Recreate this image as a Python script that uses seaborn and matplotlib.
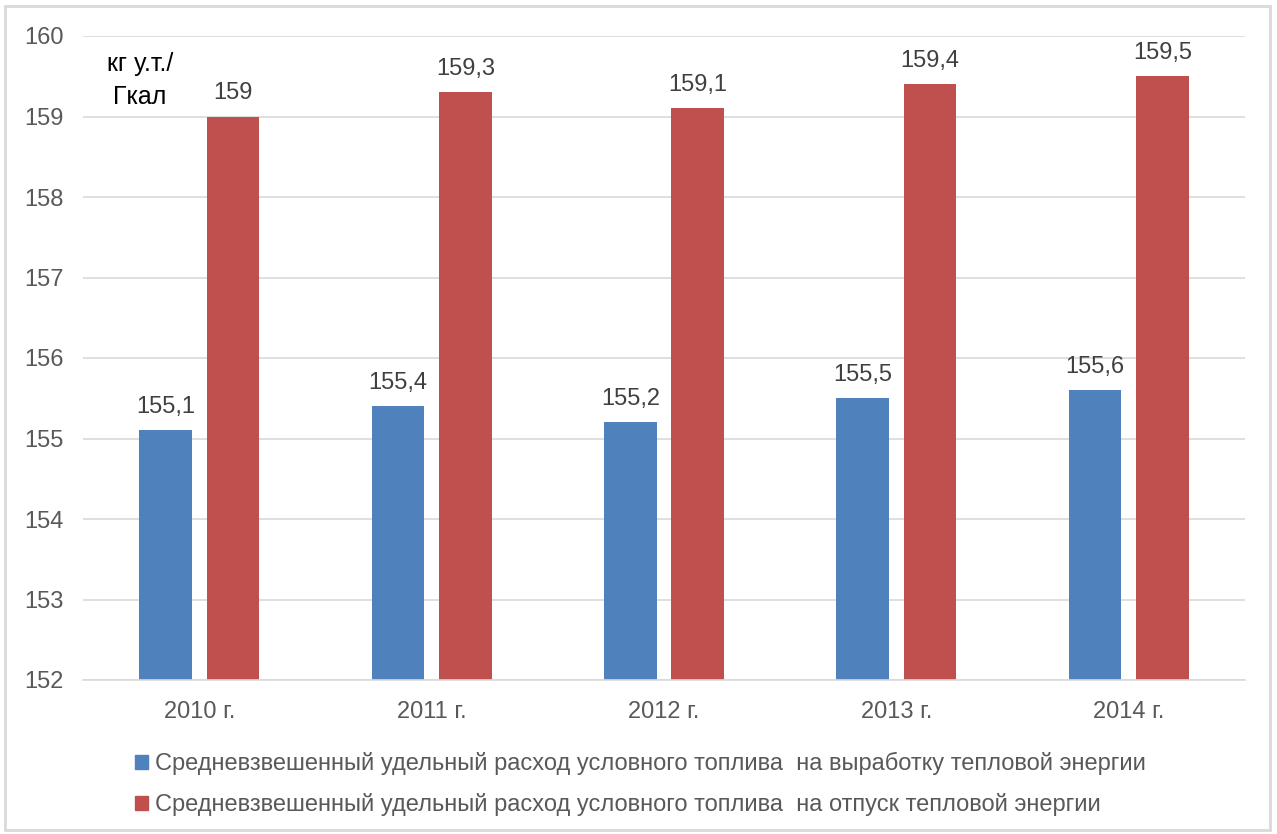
import pandas as pd
import seaborn as sns
import matplotlib.pyplot as plt
from matplotlib.patches import Rectangle

# данные
years = ['2010 г.', '2011 г.', '2012 г.', '2013 г.', '2014 г.']
vyrabotka = [155.1, 155.4, 155.2, 155.5, 155.6]
otpusk = [159.0, 159.3, 159.1, 159.4, 159.5]
series = [
    'Средневзвешенный удельный расход условного топлива  на выработку тепловой энергии',
    'Средневзвешенный удельный расход условного топлива  на отпуск тепловой энергии',
]
colors = ['#4F81BD', '#C0504D']

df = pd.DataFrame({
    'year': years * 2,
    'value': vyrabotka + otpusk,
    'series': [series[0]] * len(years) + [series[1]] * len(years),
})

sns.set_style('white')
plt.rcParams['font.family'] = ['Liberation Sans', 'DejaVu Sans']

fig = plt.figure(figsize=(12.77, 8.34), dpi=100)
ax = fig.add_axes([83 / 1277, 1 - 680 / 834, 1162 / 1277, 644 / 834])

sns.barplot(data=df, x='year', y='value', hue='series', palette=colors,
            width=0.58, gap=0.22, ax=ax, legend=False, saturation=1, linewidth=0)

ax.set_ylim(152, 160)
ax.set_xlim(-0.5, 4.5)
ax.set_yticks(range(152, 161))
ax.yaxis.grid(True, color='#D9D9D9', lw=1.2)
ax.set_axisbelow(True)
for s in ['left', 'right', 'top']:
    ax.spines[s].set_visible(False)
ax.spines['bottom'].set_color('#D9D9D9')
ax.spines['bottom'].set_linewidth(1.2)
ax.tick_params(axis='y', length=0, pad=14, labelsize=17, labelcolor='#595959')
ax.tick_params(axis='x', length=0, pad=15, labelsize=17, labelcolor='#595959')
ax.set_xlabel('')
ax.set_ylabel('')

# подписи значений
for cont in ax.containers:
    labels = [f'{v:g}'.replace('.', ',') for v in cont.datavalues]
    ax.bar_label(cont, labels=labels, padding=9, fontsize=17, color='#404040')

ax.text(-0.255, 159.45, 'кг у.т./\nГкал', ha='center', va='center',
        fontsize=18, color='black', linespacing=1.45)

handles = [Rectangle((0, 0), 1, 1, color=c) for c in colors]
fig.legend(handles, series, loc='upper left', bbox_to_anchor=(114 / 1277, 1 - 731 / 834),
           frameon=False, fontsize=17, labelcolor='#595959', handlelength=0.55,
           handleheight=0.55, handletextpad=0.3, labelspacing=0.75)

fig.patches.append(Rectangle((5 / 1277, 4 / 834), 1265 / 1277, 824 / 834,
                             transform=fig.transFigure, fill=False,
                             edgecolor='#D9D9D9', lw=2))

fig.savefig('out.png', dpi=100)
